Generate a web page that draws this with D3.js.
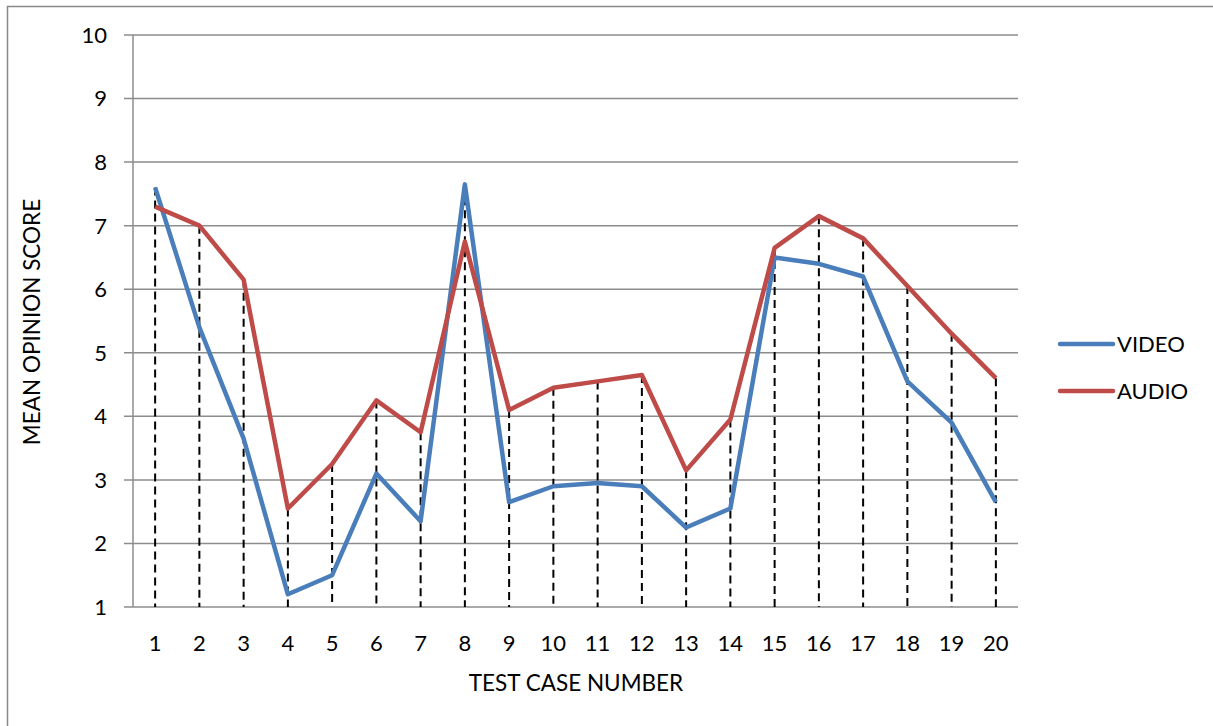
<!DOCTYPE html>
<meta charset="utf-8">
<style>
body { margin: 0; background: #fff; }
svg { font-family: Lato, "Open Sans", sans-serif; }
</style>
<svg width="1213" height="726"></svg>
<script src="https://cdn.jsdelivr.net/npm/d3@7"></script>
<script>

var cases = d3.range(1, 21).map(String);
var video = [7.6, 5.4, 3.65, 1.2, 1.5, 3.1, 2.35, 7.65, 2.65, 2.9, 2.95, 2.9, 2.25, 2.55, 6.5, 6.4, 6.2, 4.55, 3.9, 2.65];
var audio = [7.3, 7.0, 6.15, 2.55, 3.25, 4.25, 3.75, 6.75, 4.1, 4.45, 4.55, 4.65, 3.15, 3.95, 6.65, 7.15, 6.8, 6.05, 5.3, 4.6];
var yTicks = d3.range(1, 11);
var seriesNames = ["VIDEO", "AUDIO"];
var colors = ["#4a7ebb", "#be4b48"];

var svg = d3.select("svg");

// outer frame of the chart area
svg.append("rect")
    .attr("x", 7.5).attr("y", 6.5)
    .attr("width", 1230).attr("height", 740)
    .attr("fill", "none")
    .attr("stroke", "#888")
    .attr("stroke-width", 1.5);

var plotLeft = 133, plotRight = 1018, plotTop = 35, plotBottom = 607;

var x = d3.scaleBand().domain(cases).range([plotLeft, plotRight]);
var y = d3.scaleLinear().domain([1, 10]).range([plotBottom, plotTop]);

// gridlines
svg.append("g").selectAll("line")
  .data(yTicks)
  .enter().append("line")
    .attr("x1", plotLeft - 9).attr("x2", plotRight)
    .attr("y1", function(d) { return y(d); })
    .attr("y2", function(d) { return y(d); })
    .attr("stroke", "#8c8c8c")
    .attr("stroke-width", 1.5);

svg.append("line")
    .attr("x1", plotLeft).attr("x2", plotLeft)
    .attr("y1", plotTop).attr("y2", plotBottom)
    .attr("stroke", "#8c8c8c")
    .attr("stroke-width", 1.5);

// y tick labels
svg.append("g").selectAll("text")
  .data(yTicks)
  .enter().append("text")
    .attr("x", 107)
    .attr("y", function(d) { return y(d); })
    .attr("dy", "0.36em")
    .attr("text-anchor", "end")
    .attr("font-size", 22)
    .text(function(d) { return d; });

// x tick labels
svg.append("g").selectAll("text")
  .data(cases)
  .enter().append("text")
    .attr("x", function(d) { return x(d) + x.bandwidth() / 2; })
    .attr("y", 643)
    .attr("dy", "0.36em")
    .attr("text-anchor", "middle")
    .attr("font-size", 22)
    .text(function(d) { return d; });

// drop lines
svg.append("g").selectAll("line")
  .data(cases)
  .enter().append("line")
    .attr("x1", function(d) { return x(d) + x.bandwidth() / 2; })
    .attr("x2", function(d) { return x(d) + x.bandwidth() / 2; })
    .attr("y1", function(d, i) { return y(Math.max(video[i], audio[i])); })
    .attr("y2", plotBottom)
    .attr("stroke", "#000")
    .attr("stroke-width", 2)
    .attr("stroke-dasharray", "8,5");

var line = d3.line()
    .x(function(d, i) { return x(cases[i]) + x.bandwidth() / 2; })
    .y(function(d) { return y(d); });

[video, audio].forEach(function(s, k) {
  svg.append("path")
      .datum(s)
      .attr("d", line)
      .attr("fill", "none")
      .attr("stroke", colors[k])
      .attr("stroke-width", 4.5)
      .attr("stroke-linejoin", "round");
});

// axis titles
svg.append("text")
    .attr("x", 576).attr("y", 683)
    .attr("dy", "0.36em")
    .attr("text-anchor", "middle")
    .attr("font-size", 22.5)
    .text("TEST CASE NUMBER");

svg.append("text")
    .attr("transform", "translate(32,322) rotate(-90)")
    .attr("dy", "0.36em")
    .attr("text-anchor", "middle")
    .attr("font-size", 22.5)
    .text("MEAN OPINION SCORE");

// legend
var legend = svg.append("g").selectAll("g")
  .data(seriesNames)
  .enter().append("g")
    .attr("transform", function(d, i) { return "translate(1060," + (344 + i * 47) + ")"; });

legend.append("line")
    .attr("x1", 0).attr("x2", 53)
    .attr("stroke", function(d, i) { return colors[i]; })
    .attr("stroke-width", 4.5)
    .attr("stroke-linecap", "round");

legend.append("text")
    .attr("x", 57)
    .attr("dy", "0.36em")
    .attr("font-size", 22)
    .text(function(d) { return d; });

</script>
